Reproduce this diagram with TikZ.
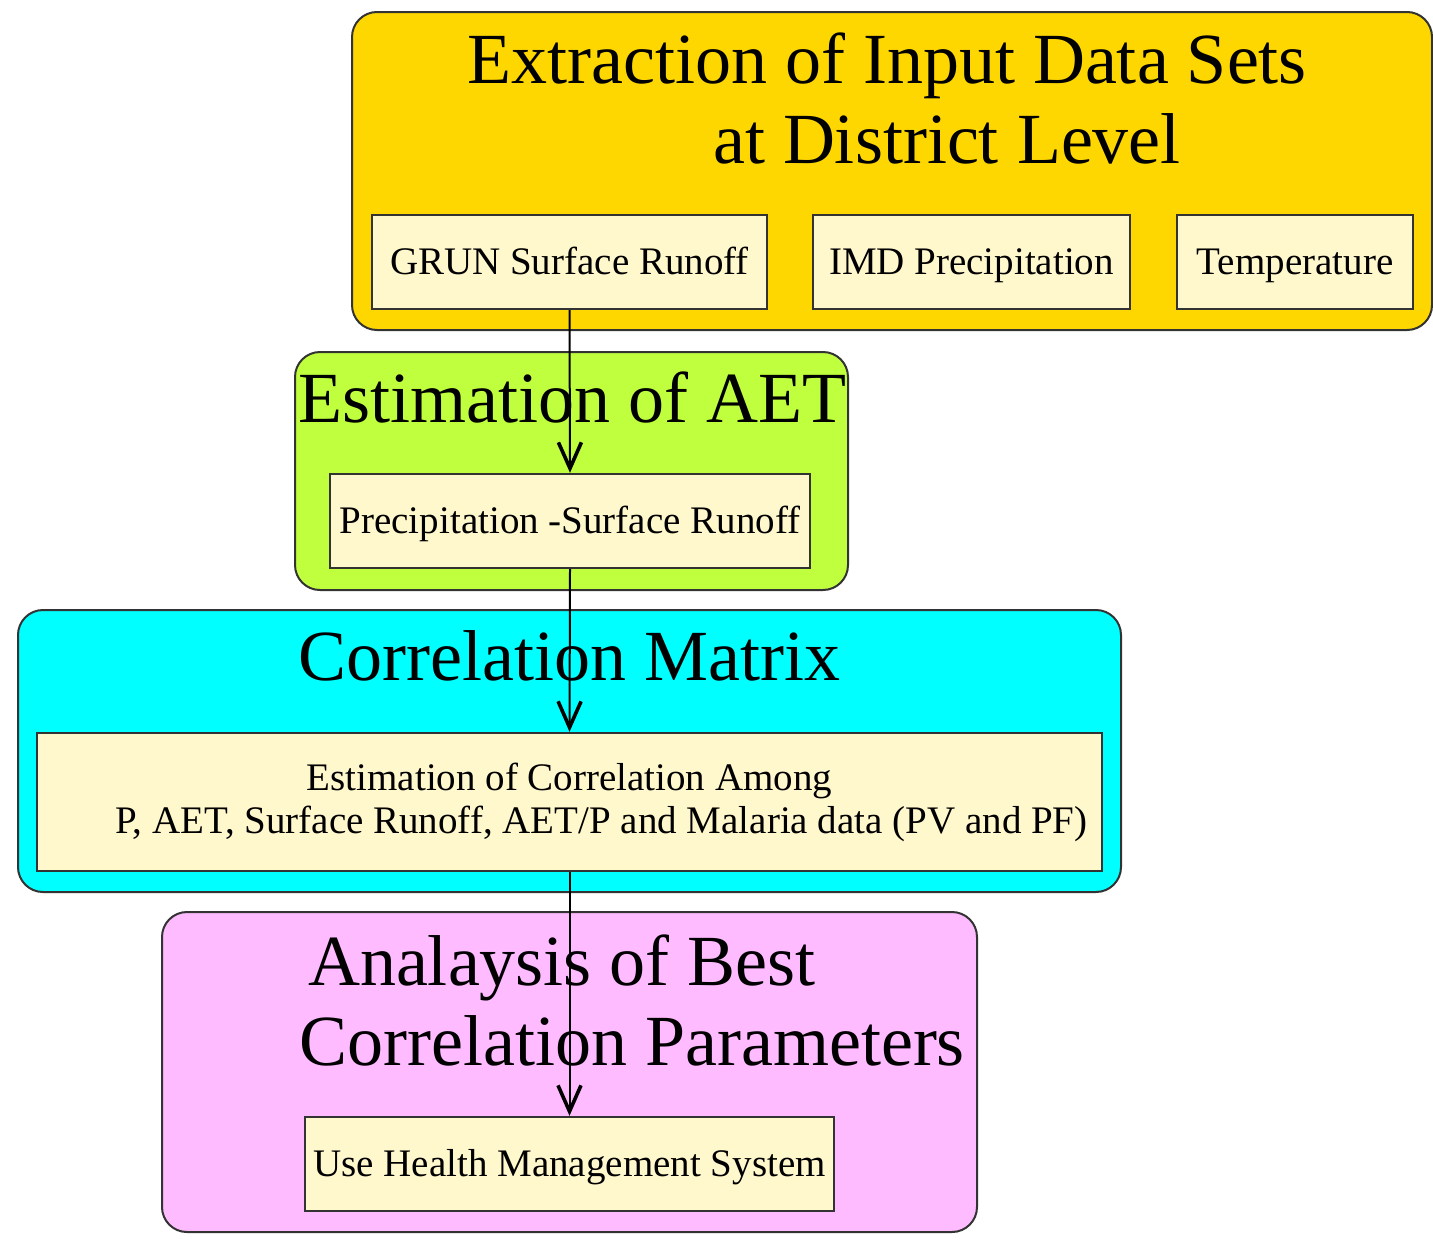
\documentclass[tikz,border=0pt]{standalone}
\usepackage{fontspec}
\setmainfont{Liberation Serif}
\usetikzlibrary{arrows.meta, positioning}

\definecolor{stageyellow}{HTML}{FFD700}
\definecolor{stagegreen}{HTML}{C0FF3E}
\definecolor{stagecyan}{HTML}{00FFFF}
\definecolor{stagepink}{HTML}{FFBBFF}
\definecolor{itemfill}{HTML}{FFF8CD}

\begin{document}
\begin{tikzpicture}[x=0.5pt, y=-0.5pt, >={Straight Barb[length=13pt, width=11.5pt, line width=1.8pt]}]
    \tikzstyle{stage} = [rectangle, draw=black!80, line width=1pt, rounded corners=12.5pt, inner sep=0pt]
    \tikzstyle{item} = [rectangle, draw=black!80, fill=itemfill, line width=1.2pt, inner sep=0pt, minimum height=47pt, font=\fontsize{19.5}{21.5}\selectfont, align=center]
    \tikzstyle{oneline} = [text height=14pt, text depth=2pt]
    \tikzstyle{title} = [inner sep=0pt, font=\fontsize{36}{40}\selectfont, align=center, anchor=base]
    \useasboundingbox (0,0) rectangle (1433,1253);

    % Stages
    \node [stage, fill=stageyellow, minimum width=540pt, minimum height=159pt] (extract) at (892,171) {};
    \node [stage, fill=stagegreen, minimum width=276.5pt, minimum height=119pt] (aet) at (571.5,471) {};
    \node [stage, fill=stagecyan, minimum width=551.5pt, minimum height=141pt] (matrix) at (569.5,751) {};
    \node [stage, fill=stagepink, minimum width=407.5pt, minimum height=160pt] (analysis) at (569.5,1072) {};

    % Titles (base = last line)
    \node [title] (extracttitle) at (887,163) {Extraction of Input Data Sets\\ \hspace*{30pt}at District Level\hspace*{-30pt}};
    \node [title] (aettitle) at (572,422) {Estimation of AET};
    \node [title] (matrixtitle) at (569,680) {Correlation Matrix};
    \node [title] (analysistitle) at (562,1065) {Analaysis of Best\\ \hspace*{35pt}Correlation Parameters\hspace*{-35pt}};

    % Items
    \node [item, oneline, minimum width=197.5pt] (grun) at (569.5,262) {GRUN Surface Runoff};
    \node [item, oneline, minimum width=158.5pt] (imd) at (971.5,262) {IMD Precipitation};
    \node [item, oneline, minimum width=118pt] (temp) at (1295,262) {Temperature};
    \node [item, oneline, minimum width=240pt] (precip) at (570,521) {Precipitation -Surface Runoff};
    \node [item, minimum width=532.5pt, minimum height=69pt] (corr) at (569.5,802) {Estimation of Correlation Among\\ \hspace*{16pt}P, AET, Surface Runoff, AET/P and Malaria data (PV and PF)\hspace*{-16pt}};
    \node [item, oneline, minimum width=264.5pt] (health) at (569.5,1164) {Use Health Management System};

    % Connections
    \draw [->, line width=1pt] (grun.south) -- (precip.north);
    \draw [->, line width=1pt] (precip.south) -- (corr.north);
    \draw [->, line width=1pt] (corr.south) -- (health.north);
\end{tikzpicture}
\end{document}
